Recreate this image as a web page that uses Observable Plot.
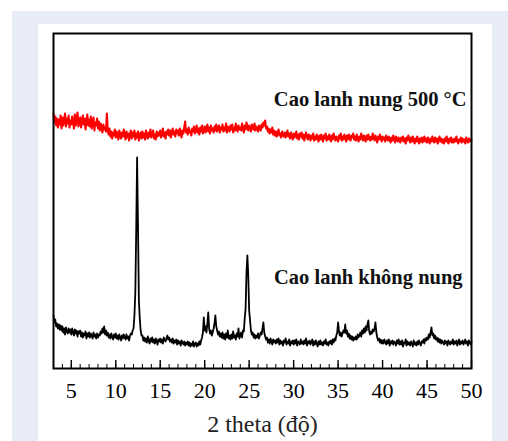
<!DOCTYPE html>
<html>
<head>
<meta charset="utf-8">
<script src="https://cdn.jsdelivr.net/npm/d3@7"></script>
<script src="https://cdn.jsdelivr.net/npm/@observablehq/plot@0.6"></script>
<style>
  html, body { margin: 0; padding: 0; background: #ffffff; }
  #bg { position: absolute; left: 12px; top: 11px; width: 496px; height: 430px; background: #e8ecf6; }
  #panel { position: absolute; left: 38px; top: 24px; width: 454px; height: 417px; background: #ffffff; }
  #panel svg { display: block; }
  #panel svg text, #panel svg g {
    font-family: "Liberation Serif", "DejaVu Serif", "Times New Roman", serif !important;
  }
</style>
</head>
<body>
<div id="bg"></div>
<div id="panel"></div>
<script>
// 2θ sampling of the scans (degrees)
const T0 = 3;
const STEP = 0.1;

// Uncalcined kaolin (black), intensity a.u., 3.0° … 50.0°
const rawIntensity = [
  53,46,49,42,45,40,44,39,43,38,
  42,36,40,34,41,37,35,40,36,39,
  34,40,36,33,39,35,38,32,37,35,
  38,32,36,31,35,33,37,30,35,32,
  36,31,35,33,30,36,32,34,30,35,
  31,34,33,37,35,40,36,42,34,38,
  33,36,31,34,30,35,32,29,34,31,
  35,30,33,29,34,31,28,33,30,34,
  31,29,34,30,32,28,33,35,34,38,
  40,53,76,138,211,143,68,50,38,33,
  33,28,31,27,30,26,32,28,25,30,
  27,31,26,29,25,30,28,24,29,27,
  30,26,29,25,31,28,27,30,33,29,
  31,27,29,26,30,25,28,26,29,24,
  28,25,27,23,28,26,24,27,23,26,
  24,27,23,26,22,25,23,27,22,25,
  26,22,25,23,27,24,28,31,36,51,
  38,42,36,45,56,40,35,38,33,36,
  40,45,53,42,38,34,37,32,35,31,
  36,30,34,29,35,31,38,30,33,29,
  34,30,37,31,33,29,35,32,40,30,
  33,36,31,38,37,50,60,96,113,93,
  58,48,38,34,36,31,34,30,33,31,
  35,30,33,36,34,40,46,36,32,29,
  31,26,29,25,30,27,24,29,26,28,
  25,29,26,30,24,28,25,27,23,28,
  26,30,24,27,25,29,23,27,25,28,
  24,28,25,29,23,27,26,24,29,25,
  27,24,28,25,30,23,27,25,28,24,
  26,29,23,27,24,28,25,22,27,24,
  28,24,26,23,27,25,29,24,26,23,
  27,25,28,24,29,26,30,28,33,36,
  46,37,33,36,32,35,38,36,44,35,
  38,32,35,30,33,29,32,28,31,29,
  32,29,34,31,33,36,32,38,35,40,
  36,42,38,44,48,37,34,37,35,39,
  37,40,46,36,31,28,30,26,29,25,
  28,25,29,26,24,28,25,29,23,27,
  25,28,24,27,26,23,28,25,29,24,
  27,24,28,22,26,25,29,23,27,24,
  26,23,27,25,22,28,24,26,23,27,
  24,28,25,23,27,26,29,25,30,28,
  31,29,34,31,36,41,33,35,30,33,
  29,31,27,30,26,29,25,28,26,24,
  28,25,27,23,28,26,24,27,25,29,
  24,27,25,28,23,26,29,24,27,25,
  28,24,26,29,25,27,23,28,26,24,
  27
];

// Kaolin calcined at 500 °C (red), intensity a.u., 3.0° … 50.0°
const calcinedIntensity = [
  255,246,252,243,250,241,249,244,253,240,
  251,243,249,255,242,250,245,253,241,248,
  244,252,246,240,254,243,249,256,242,247,
  251,241,248,253,244,250,239,247,254,243,
  249,242,252,240,247,251,238,246,243,250,
  240,247,238,245,242,236,244,239,241,237,
  255,238,234,240,232,237,230,236,233,239,
  231,237,233,229,238,234,230,236,232,239,
  233,229,237,231,235,228,234,238,230,236,
  232,238,229,235,231,237,228,234,236,230,
  237,231,235,229,238,233,230,236,232,239,
  231,235,238,230,234,229,237,232,236,233,
  238,231,235,240,232,236,230,237,234,239,
  233,238,231,236,240,234,237,232,239,235,
  238,233,240,236,231,238,235,241,247,236,
  239,234,241,236,238,233,240,237,242,235,
  238,243,236,240,234,241,237,243,235,239,
  242,236,240,244,237,241,235,243,238,240,
  236,242,238,244,237,240,243,236,241,239,
  244,237,241,238,245,236,242,240,237,243,
  239,244,236,241,238,245,240,237,243,239,
  241,238,245,240,236,243,239,246,241,238,
  243,240,237,244,241,239,245,238,242,240,
  237,243,240,238,244,241,246,243,248,240,
  242,237,240,235,239,236,241,234,238,233,
  237,232,236,239,233,235,231,237,234,232,
  236,231,234,238,232,235,230,236,233,229,
  235,231,233,237,230,234,229,235,232,236,
  230,234,228,233,236,231,229,234,232,228,
  233,230,235,228,232,229,234,231,227,233,
  229,234,231,227,233,230,235,228,232,229,
  234,230,227,233,229,235,231,228,232,230,
  227,233,230,235,228,232,229,234,231,227,
  233,229,234,230,228,233,231,235,229,232,
  228,234,230,227,232,229,235,231,228,233,
  230,227,233,229,234,230,228,232,229,235,
  231,228,233,230,226,232,229,234,230,227,
  232,229,231,227,233,230,228,232,229,226,
  231,228,233,229,226,232,230,227,231,228,
  226,231,228,232,227,230,225,231,228,233,
  229,226,231,227,232,228,225,230,227,232,
  228,225,230,227,231,226,229,232,227,230,
  226,231,228,225,230,227,232,228,226,231,
  227,230,225,229,232,227,230,226,229,225,
  230,227,232,228,225,230,227,231,226,229,
  226,230,227,232,228,225,229,227,231,226,
  230,227,229,225,231,228,226,230,227,229,
  228
];

// Axis ticks
const xMajorTicks = [5, 10, 15, 20, 25, 30, 35, 40, 45, 50];
const xMinorTicks = [3,4,5,6,7,8,9,10,11,12,13,14,15,16,17,18,19,20,21,22,23,24,25,26,
  27,28,29,30,31,32,33,34,35,36,37,38,39,40,41,42,43,44,45,46,47,48,49,50];

// Series labels and their anchor positions (data units)
const seriesLabels = ["Cao lanh nung 500 °C", "Cao lanh không nung"];
const labelX = [49.45, 49.0];
const labelY = [269, 91];
const xLabel = ["2 theta (độ)"];

const rawData = rawIntensity.map((v, i) => ({t: T0 + i * STEP, v}));
const calcData = calcinedIntensity.map((v, i) => ({t: T0 + i * STEP, v}));
const labelData = seriesLabels.map((s, i) => ({s, x: labelX[i], y: labelY[i]}));

const chart = Plot.plot({
  width: 454,
  height: 417,
  marginLeft: 15,
  marginRight: 21,
  marginTop: 9,
  marginBottom: 73,
  x: {domain: [3, 50]},
  y: {domain: [0, 335], axis: null},
  style: {background: "#ffffff", color: "#000000", overflow: "visible"},
  marks: [
    Plot.line(rawData, {x: "t", y: "v", stroke: "#000000", strokeWidth: 1.8}),
    Plot.line(calcData, {x: "t", y: "v", stroke: "#ff0000", strokeWidth: 2.1}),
    Plot.tickX(xMinorTicks, {x: d => d, stroke: "#000000", strokeWidth: 1, insetTop: 331}),
    Plot.tickX(xMajorTicks, {x: d => d, stroke: "#000000", strokeWidth: 1.4, insetTop: 327}),
    Plot.axisX(xMajorTicks, {tickSize: 0, tickPadding: 14, fontSize: 22, label: null}),
    Plot.text(xLabel, {frameAnchor: "bottom", dy: 56, text: d => d, fontSize: 24, lineAnchor: "middle", fill: "#222222"}),
    Plot.text(labelData, {
      x: "x", y: "y", text: "s", textAnchor: "end", lineAnchor: "middle",
      fontSize: 20.5, fontWeight: "bold", fill: "#111111"
    }),
    Plot.frame({stroke: "#000000", strokeWidth: 2})
  ]
});
document.getElementById("panel").appendChild(chart);
</script>
</body>
</html>
